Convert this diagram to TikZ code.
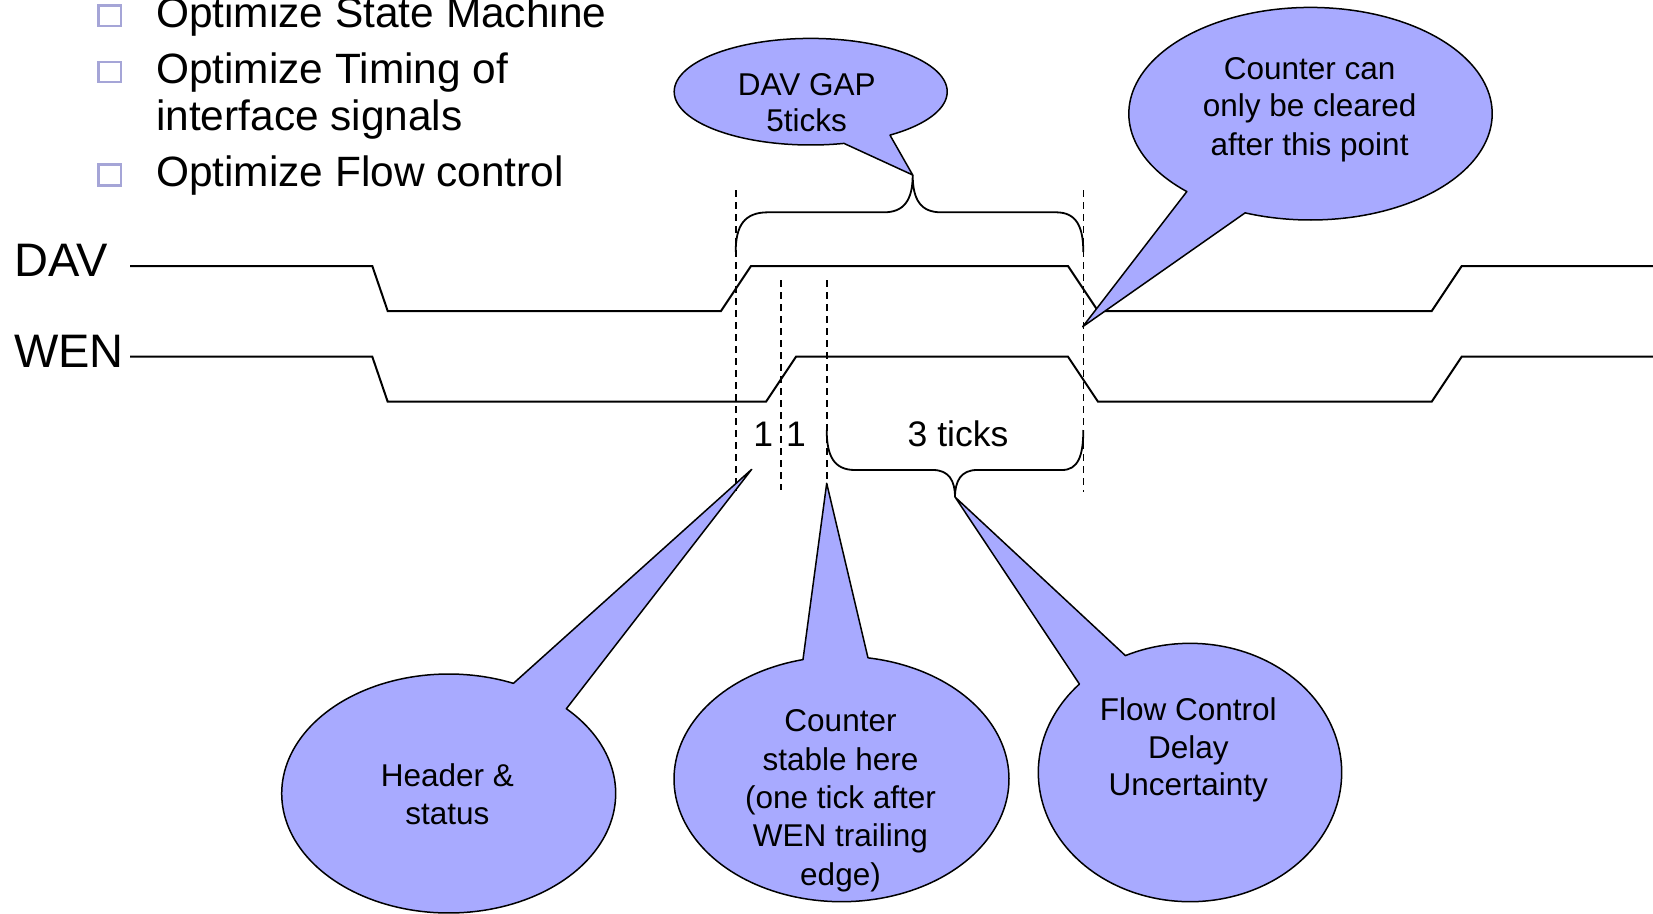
\documentclass[tikz,border=0pt]{standalone}
\usepackage{fontspec}
\setmainfont{Liberation Sans}
\definecolor{bubble}{RGB}{168,170,255}
\definecolor{bulletc}{RGB}{165,165,215}
\begin{document}
\begin{tikzpicture}[x=1pt,y=-1pt,
  sig/.style={line width=2pt, line join=miter},
  guide/.style={line width=1.6pt, dash pattern=on 7pt off 5pt},
  brace/.style={line width=1.8pt},
  bub/.style={fill=bubble, draw=black, line width=1.5pt, line join=round},
  btxt/.style={font=\fontsize{31.5}{38}\selectfont, anchor=base, inner sep=0pt},
  ttxt/.style={font=\fontsize{35.5}{42}\selectfont, anchor=base, inner sep=0pt},
  stxt/.style={font=\fontsize{47}{54}\selectfont, anchor=base west, inner sep=0pt},
  ltxt/.style={font=\fontsize{42.4}{47}\selectfont, anchor=base west, inner sep=0pt},
  bsq/.style={draw=bulletc, line width=2.4pt}]
\useasboundingbox (0,0) rectangle (1653,913);

% bullets
\draw[bsq] (98.5,5.5) rectangle (120.7,25.7);
\draw[bsq] (98.5,62.2) rectangle (120.7,82.2);
\draw[bsq] (98.5,164.5) rectangle (120.7,185.5);
\node[ltxt] (l1) at (156,27.3) {Optimize State Machine};
\node[ltxt] (l2) at (156,83.3) {Optimize Timing of};
\node[ltxt] (l3) at (156,130) {interface signals};
\node[ltxt] (l4) at (156,186.7) {Optimize Flow control};

% signal names
\node[stxt] (dav) at (14,276.7) {DAV};
\node[stxt] (wen) at (14,367.3) {WEN};

% signals
\draw[sig] (130,266) -- (372.3,266) -- (387.7,311) -- (721,311) -- (751,266)
  -- (1068,266) -- (1098,311) -- (1431.7,311) -- (1461.7,266) -- (1653,266);
\draw[sig] (130,356.7) -- (372.3,356.7) -- (387.7,401.7) -- (766,401.7) -- (796,356.7)
  -- (1068,356.7) -- (1098,401.7) -- (1431.7,401.7) -- (1461.7,356.7) -- (1653,356.7);

% guides
\draw[guide] (735.7,190) -- (735.7,491);
\draw[guide] (781,280) -- (781,490);
\draw[guide] (826.7,280) -- (826.7,486);
\draw[guide] (1083.3,190) -- (1083.3,492);

% top brace
\draw[brace] (735.7,252) .. controls (735.7,226) and (744,212.3) .. (768,212.3)
  -- (884,212.3) .. controls (904,212.3) and (912.7,200) .. (912.7,175)
  .. controls (912.7,200) and (921,212.3) .. (941,212.3)
  -- (1056,212.3) .. controls (1076,212.3) and (1083.3,226) .. (1083.3,252);
% bottom brace
\draw[brace] (826.7,430) .. controls (826.7,456) and (834,470) .. (855,470)
  -- (933,470) .. controls (949,470) and (955,481) .. (955,497)
  .. controls (955,481) and (961,470) .. (977,470)
  -- (1062,470) .. controls (1078,470) and (1083.3,456) .. (1083.3,430);

% tick labels
\node[ttxt] (one1) at (763.3,446) {1};
\node[ttxt] (one2) at (796,446) {1};
\node[ttxt] (three) at (958,446) {3 ticks};

% bubble A: DAV GAP
\draw[bub] ({810.7+136.5*cos(54.5)},{91.7+53.3*sin(54.5)}) -- (912.7,175)
  -- ({810.7+136.5*cos(75.9)},{91.7+53.3*sin(75.9)})
  -- plot[domain=75.9:414.5, samples=160, variable=\t] ({810.7+136.5*cos(\t)},{91.7+53.3*sin(\t)}) -- cycle;
\node[btxt] (a1) at (806.7,95) {DAV GAP};
\node[btxt] (a2) at (806.7,131.7) {5ticks};

% bubble B: counter can only be cleared
\draw[bub] ({1310.5+181.7*cos(111.1)},{113.7+106.3*sin(111.1)}) -- (1082.7,326.7)
  -- ({1310.5+181.7*cos(132.9)},{113.7+106.3*sin(132.9)})
  -- plot[domain=132.9:471.1, samples=160, variable=\t] ({1310.5+181.7*cos(\t)},{113.7+106.3*sin(\t)}) -- cycle;
\node[btxt] (b1) at (1309.6,79) {Counter can};
\node[btxt] (b2) at (1309.6,116.7) {only be cleared};
\node[btxt] (b3) at (1309.6,155) {after this point};

% bubble C: header & status
\draw[bub] ({448.7+167*cos(-67.2)},{793.5+119.5*sin(-67.2)}) -- (751.7,469.3)
  -- ({448.7+167*cos(-45.2)},{793.5+119.5*sin(-45.2)})
  -- plot[domain=-45.2:292.8, samples=160, variable=\t] ({448.7+167*cos(\t)},{793.5+119.5*sin(\t)}) -- cycle;
\node[btxt] (c1) at (447.3,786.7) {Header \&};
\node[btxt] (c2) at (447.3,824) {status};

% bubble D: counter stable here
\draw[bub] ({841.5+167.5*cos(-103.3)},{779+122.7*sin(-103.3)}) -- (826.7,483.3)
  -- ({841.5+167.5*cos(-80.9)},{779+122.7*sin(-80.9)})
  -- plot[domain=-80.9:256.7, samples=160, variable=\t] ({841.5+167.5*cos(\t)},{779+122.7*sin(\t)}) -- cycle;
\node[btxt] (d1) at (840.5,731.7) {Counter};
\node[btxt] (d2) at (840.5,770) {stable here};
\node[btxt] (d3) at (840.5,808.3) {(one tick after};
\node[btxt] (d4) at (840.5,846.7) {WEN trailing};
\node[btxt] (d5) at (840.5,885) {edge)};

% bubble E: flow control delay uncertainty
\draw[bub] ({1190+151.7*cos(-136.8)},{772.5+129.2*sin(-136.8)}) -- (955,497)
  -- ({1190+151.7*cos(-115.2)},{772.5+129.2*sin(-115.2)})
  -- plot[domain=-115.2:223.2, samples=160, variable=\t] ({1190+151.7*cos(\t)},{772.5+129.2*sin(\t)}) -- cycle;
\node[btxt] (e1) at (1188.3,720) {Flow Control};
\node[btxt] (e2) at (1188.3,758.3) {Delay};
\node[btxt] (e3) at (1188.3,795) {Uncertainty};
\end{tikzpicture}
\end{document}
